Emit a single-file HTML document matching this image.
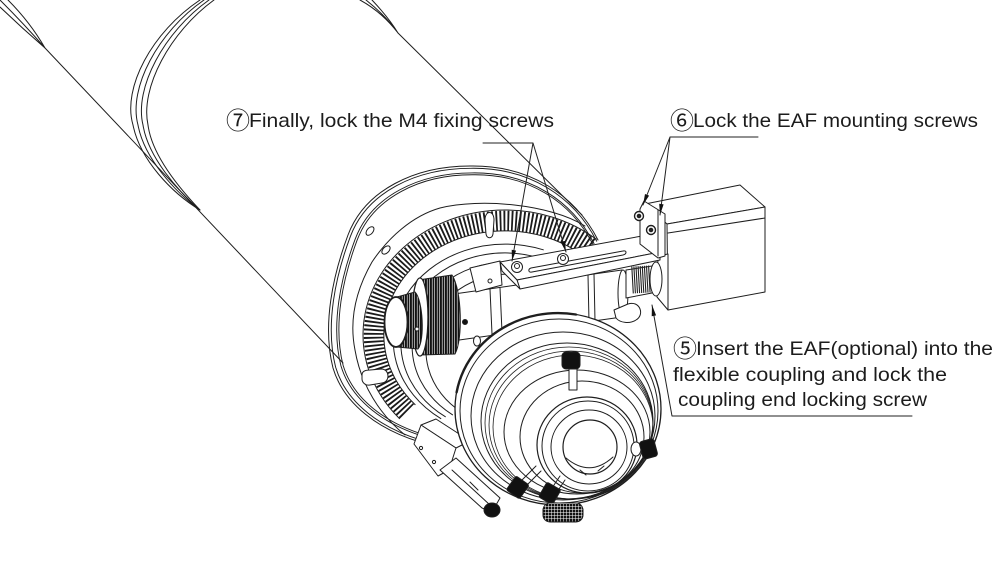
<!DOCTYPE html>
<html><head><meta charset="utf-8">
<style>
html,body{margin:0;padding:0;background:#fff;}
svg{display:block;}
text{font-family:"Liberation Sans","Noto Sans CJK SC",sans-serif;font-size:19.5px;fill:#1c1c1c;}
.cd{font-family:"Noto Sans CJK SC","DejaVu Sans",sans-serif;font-size:24px;}
</style></head><body>
<svg width="1004" height="565" viewBox="0 0 1004 565" xmlns="http://www.w3.org/2000/svg">
<defs>
<pattern id="kn" width="2.5" height="4" patternUnits="userSpaceOnUse"><rect width="2.5" height="4" fill="#fff"/><rect width="1.9" height="4" fill="#111"/></pattern>
<pattern id="kn2" width="3" height="3" patternUnits="userSpaceOnUse"><rect width="3" height="3" fill="#fff"/><rect width="2.5" height="2.5" fill="#111"/></pattern>
<path id="r1" d="M598,240 C575,195 530,165 470,166 C415,166 365,190 348,235 C333,275 322,325 333,368 C344,405 380,430 420,442"/>
</defs>
<g fill="none" stroke="#1e1e1e" stroke-width="1" stroke-linecap="round" stroke-linejoin="round">
<path d="M0,0 Q25,25 45,48 M8,0 Q30,22 45,48 M0,7 Q22,28 45,48"/>
<path d="M45,48 L343,363"/>
<path d="M360,0 Q382,12 398,33 M366,0 Q385,15 398,33 M372,0 Q389,18 398,33"/>
<path d="M398,33 L582,215"/>
<path d="M200,0 C152,32 122,88 133,125 C140,160 172,193 200,210"/>
<path d="M204,0 C158,32 128,88 138,125 C144,158 175,192 200,210"/>
<path d="M209,0 C164,32 134,88 143,125 C148,157 178,191 200,210"/>
<path d="M214,0 C170,32 140,88 148,125 C152,156 181,190 200,210"/>

<use href="#r1"/>
<use href="#r1" transform="translate(510 320) scale(0.985) translate(-510 -320)"/>
<use href="#r1" transform="translate(510 320) scale(0.955) translate(-510 -320)"/>
<use href="#r1" transform="translate(510 320) scale(0.943) translate(-510 -320)"/>
<path d="M585,226 C550,204 480,198 440,208 C412,216 388,238 372,262 C356,290 349,320 355,350 C361,385 380,415 405,435"/>
<ellipse cx="370" cy="231" rx="3" ry="5" transform="rotate(40 370 231)"/>
<ellipse cx="386" cy="250" rx="3" ry="5" transform="rotate(45 386 250)"/>

<path d="M589.5,247.3 A131.5,114.5 0 0 0 407.3,411.6" stroke="#1a1a1a" stroke-width="20" stroke-dasharray="1.8 2.1" stroke-linecap="butt"/>
<path d="M596.3,239.2 A142,125 0 0 0 399.5,418.6"/>
<path d="M582.8,255.3 A121,104 0 0 0 415.1,404.6"/>

<path d="M485,220 C485,210 494,210 494,220 L493,234 C492,239 487,239 486,234 Z" fill="#fff"/>
<path d="M362,375 C362,371 366,370 370,370 L382,369 C390,370 390,382 382,383 L370,385 C365,386 362,382 362,379 Z" fill="#fff"/>

<path d="M543.3,249.8 A112,96 0 0 0 440.8,418.6"/>
<path d="M540.6,258.4 A104,90 0 0 0 445.3,416.7"/>
<path d="M539.5,267.1 A95,84 0 0 0 452.5,414.8"/>
<path d="M538.7,278.6 A84,76 0 0 0 461.8,412.3"/>

<path d="M440,296 L622,270 L622,317 L445,342 Z" fill="#fff"/>
<path d="M490,289 L492,334 M500,288 L502,332 M588,275 L589,322 M594,274 L595,321"/>
<ellipse cx="623" cy="293" rx="5" ry="23" fill="#fff"/>
<path d="M470,268 L500,261 L502,285 L476,292 Z" fill="#fff"/>
<circle cx="490" cy="281" r="2"/>

<path d="M645,204 L740,185 L765,207 L667,224 Z" fill="#fff"/>
<path d="M667,224 L765,207 L765,292 L668,310 Z" fill="#fff"/>
<path d="M668,233 L765,218"/>
<path d="M658,256 L668,254 L668,310 L657,297 Z" fill="#fff"/>

<path d="M626,270 L652,266 L652,293 L626,298 Z" fill="#fff"/>
<line x1="632" y1="280" x2="650" y2="279" stroke="#222" stroke-width="27" stroke-dasharray="1.1 1" stroke-linecap="butt"/>
<ellipse cx="656" cy="279" rx="6" ry="17" fill="#fff"/>
<path d="M614,310 L628,304 C640,300 645,315 636,320 C630,324 620,323 616,318 Z" fill="#fff"/>

<path d="M500,262 L642,236 L660,252 L517,280 Z" fill="#fff"/>
<path d="M517,280 L660,252 L660,260 L520,289 Z" fill="#fff"/>
<path d="M500,262 L517,280 L520,289 L502,271 Z" fill="#fff"/>
<path d="M531,268 L623,251 C627,250 627,254 623,255 L532,272 C528,273 528,269 531,268 Z" fill="#fff"/>
<circle cx="517" cy="267" r="5.5" fill="#fff"/><circle cx="517" cy="266" r="2.5"/>
<circle cx="563" cy="259" r="5.5" fill="#fff"/><circle cx="563" cy="258" r="2.5"/>

<path d="M640,209 L644,201 L665,214 L665,256 L658,258 L640,244 Z" fill="#fff"/>
<path d="M658,210 L658,256"/>
<circle cx="639" cy="216" r="4.5" fill="#fff" stroke-width="1.4"/><circle cx="639" cy="216" r="1.8" fill="#222"/>
<circle cx="651" cy="230" r="4.5" fill="#fff" stroke-width="1.4"/><circle cx="651" cy="230" r="1.8" fill="#222"/>

<path d="M418,280 L452,275 C462,290 463,340 455,354 L420,355 Z" fill="url(#kn)"/>
<ellipse cx="420" cy="317" rx="8" ry="39" fill="#fff" stroke-width="1.3"/>
<path d="M397,297 L415,292 C423,300 425,340 418,349 L397,347 Z" fill="url(#kn)"/>
<ellipse cx="396" cy="322" rx="11.5" ry="25" fill="#fff" stroke-width="1.8"/>
<circle cx="417" cy="329" r="2" fill="#fff"/>
<circle cx="465" cy="322" r="2.5" fill="#111"/>
<ellipse cx="477" cy="341" rx="3.5" ry="5" fill="#fff"/>

<path d="M421,425 L436,419 L470,441 L456,448 Z" fill="#fff"/>
<path d="M414,444 L421,425 L456,448 L449,470 L438,476 Z" fill="#fff"/>
<path d="M440,470 L456,458 L500,498 L492,512 L482,508 Z" fill="#fff"/>
<path d="M452,470 L490,505 M470,482 L478,490"/>
<circle cx="421" cy="448" r="1.6"/><circle cx="434" cy="462" r="1.6"/>
<ellipse cx="492" cy="510" rx="8" ry="7" fill="#111"/>

<ellipse cx="558" cy="409" rx="103" ry="96" fill="#fff" stroke-width="1.3"/>
<path d="M456.6,392.3 A103,96 0 0 1 575.9,314.5" stroke-width="2.4"/>
<ellipse cx="559" cy="411" rx="99" ry="92"/>
<ellipse cx="563" cy="416" rx="92" ry="84"/>
<ellipse cx="567" cy="421" rx="86" ry="78"/>
<ellipse cx="569" cy="423" rx="84" ry="76" stroke-width="0.8"/>
<ellipse cx="571" cy="425" rx="82" ry="74" stroke-width="0.8"/>
<ellipse cx="573" cy="427" rx="80" ry="72" stroke-width="0.8"/>
<ellipse cx="577" cy="432" rx="73" ry="62"/>
<ellipse cx="582" cy="437" rx="62" ry="56"/>
<ellipse cx="587" cy="445" rx="50" ry="48" stroke-width="1.2"/>
<ellipse cx="588" cy="446" rx="46" ry="45"/>
<ellipse cx="589" cy="447" rx="38" ry="37"/>
<ellipse cx="590" cy="447" rx="27" ry="27" fill="#fff" stroke-width="1.2"/>
<path d="M566,458 Q590,478 613,457 M580,470 L586,475 M598,471 L604,466"/>
<rect x="569" y="366" width="8" height="24" fill="#fff"/>
<rect x="562" y="352" width="18" height="17" rx="4" fill="#111"/>
<ellipse cx="636" cy="449" rx="5" ry="7" fill="#fff"/>
<rect x="641" y="440" width="15" height="18" rx="3" fill="#111" transform="rotate(-15 648 449)"/>
<path d="M522,480 L536,466 M527,485 L541,471 M552,488 L560,476 M557,492 L565,480"/>
<rect x="510" y="479" width="16" height="17" rx="2" fill="#111" transform="rotate(35 518 487)"/>
<rect x="542" y="485" width="16" height="17" rx="2" fill="#111" transform="rotate(30 550 493)"/>
<rect x="543" y="503" width="40" height="19" rx="7" fill="url(#kn2)"/>

<path d="M483,143 L533,143 L512,261 M533,143 L566,252" stroke="#222"/>
<path d="M758,137 L670,137 L643,205 M670,137 L660,215" stroke="#222"/>
<path d="M912,416 L672,416 L652,305" stroke="#222"/>
</g>
<g fill="#111" stroke="none">
<polygon points="512,261 516.1,250.6 511.7,249.8"/>
<polygon points="566,252 564.9,240.9 560.7,242.1"/>
<polygon points="643,205 649.1,195.6 645.0,194.0"/>
<polygon points="660,215 663.6,204.4 659.2,203.8"/>
<polygon points="652,305 656.1,315.4 651.7,316.2"/>
</g>
<text x="226" y="129" class="cd">⑦</text>
<text x="249" y="127" textLength="305" lengthAdjust="spacingAndGlyphs">Finally, lock the M4 fixing screws</text>
<text x="670" y="129" class="cd">⑥</text>
<text x="693" y="127" textLength="285" lengthAdjust="spacingAndGlyphs">Lock the EAF mounting screws</text>
<text x="673" y="357" class="cd">⑤</text>
<text x="696" y="355" textLength="297" lengthAdjust="spacingAndGlyphs">Insert the EAF(optional) into the</text>
<text x="673" y="381" textLength="274" lengthAdjust="spacingAndGlyphs">flexible coupling and lock the</text>
<text x="678" y="406" textLength="249" lengthAdjust="spacingAndGlyphs">coupling end locking screw</text>
</svg>
</body></html>
